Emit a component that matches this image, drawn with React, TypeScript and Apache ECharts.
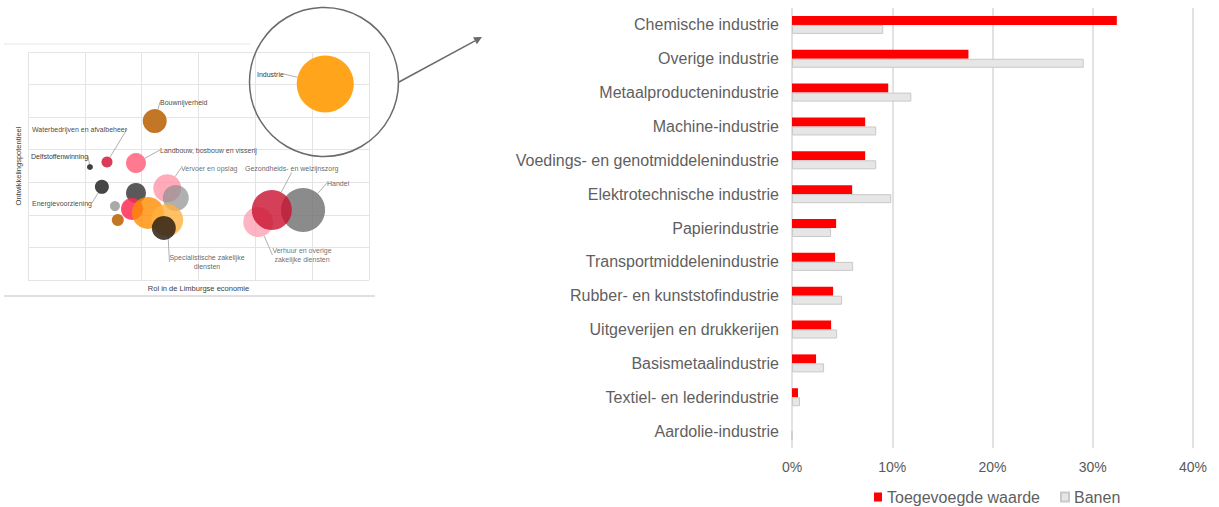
import React, { useEffect, useRef } from "react";
import * as echarts from "echarts";

// ---- Bar chart data ----
const categories = [
  "Chemische industrie",
  "Overige industrie",
  "Metaalproductenindustrie",
  "Machine-industrie",
  "Voedings- en genotmiddelenindustrie",
  "Elektrotechnische industrie",
  "Papierindustrie",
  "Transportmiddelenindustrie",
  "Rubber- en kunststofindustrie",
  "Uitgeverijen en drukkerijen",
  "Basismetaalindustrie",
  "Textiel- en lederindustrie",
  "Aardolie-industrie",
];
const toegevoegdeWaarde = [32.4, 17.6, 9.6, 7.3, 7.3, 6.0, 4.4, 4.3, 4.1, 3.9, 2.4, 0.6, 0];
const banen = [9.1, 29.1, 11.9, 8.4, 8.4, 9.9, 3.9, 6.1, 5.0, 4.5, 3.2, 0.8, 0];
const seriesNames = ["Toegevoegde waarde", "Banen"];

// ---- Bubble chart data (inset) ----
const bubbleNames = [
  "Delfstoffenwinning",
  "Waterbedrijven en afvalbeheer",
  "Landbouw, bosbouw en visserij",
  "Bouwnijverheid",
  "Energievoorziening",
  "",
  "",
  "",
  "Vervoer en opslag",
  "",
  "",
  "",
  "Specialistische zakelijke\ndiensten",
  "",
  "Verhuur en overige\nzakelijke diensten",
  "Handel",
  "Gezondheids- en welzijnszorg",
  "Industrie",
];
const bubbleX = [1.09, 1.39, 1.9, 2.23, 1.3, 1.9, 1.53, 1.58, 2.45, 2.6, 1.83, 2.11, 2.45, 2.39, 4.05, 4.84, 4.29, 5.23];
const bubbleY = [3.47, 3.62, 3.59, 4.88, 2.86, 2.67, 2.27, 1.84, 2.82, 2.52, 2.18, 2.06, 1.84, 1.6, 1.78, 2.15, 2.15, 6.02];
const bubbleSize = [6, 11, 20, 24, 14, 20, 10, 12, 28, 26, 22, 32, 32, 24, 30, 44, 40, 57];

// styles (kept apart from data)
const bubbleColors = [
  "#404040", "#D9304F", "#FF6B85", "#C0701A", "#3C3C3C", "#474747", "#A0A0A0", "#C0701A",
  "#FF8FA3", "#8F8F8F", "#FF2D55", "#FF8C00", "#FFB23F", "#2E2114", "#FF9BB0", "#6E6E6E",
  "#C8102E", "#FFA41B",
];
const bubbleOpacity = [1, 0.95, 0.9, 0.95, 0.95, 0.9, 0.9, 0.95, 0.75, 0.7, 0.85, 0.8, 0.8, 0.85, 0.75, 0.8, 0.8, 1];
const labelPos: Record<number, { x: number; y: number; align: string }> = {
  0: { x: 31, y: 156, align: "left" },
  1: { x: 32, y: 129, align: "left" },
  2: { x: 160, y: 150, align: "left" },
  3: { x: 160, y: 102, align: "left" },
  4: { x: 32, y: 203, align: "left" },
  8: { x: 181, y: 168, align: "left" },
  12: { x: 207, y: 262, align: "center" },
  14: { x: 302, y: 255, align: "center" },
  15: { x: 327, y: 183, align: "left" },
  16: { x: 245, y: 168, align: "left" },
  17: { x: 257, y: 74, align: "left" },
};

const FONT = "'Liberation Sans', Arial, Helvetica, sans-serif";

export default function App() {
  const ref = useRef<HTMLDivElement>(null);

  useEffect(() => {
    if (!ref.current) return;
    const chart = echarts.init(ref.current, undefined, { renderer: "svg" });

    const bubbleData = bubbleX.map((x, i) => ({
      name: bubbleNames[i],
      value: [x, bubbleY[i], bubbleSize[i]],
      itemStyle: { color: bubbleColors[i], opacity: bubbleOpacity[i] },
      label: { show: bubbleNames[i] !== "", color: "#3a3a3a" },
      labelLine: { show: bubbleNames[i] !== "" },
    }));

    // arrow geometry
    const ax0 = 399, ay0 = 82, ax1 = 482, ay1 = 37;
    const len = Math.hypot(ax1 - ax0, ay1 - ay0);
    const dx = (ax1 - ax0) / len, dy = (ay1 - ay0) / len;
    const bx = ax1 - dx * 8, by = ay1 - dy * 8;
    const px = -dy * 4, py = dx * 4;

    const option: any = {
      animation: false,
      backgroundColor: "#ffffff",
      textStyle: { fontFamily: FONT },
      grid: [
        { left: 28, top: 52, width: 341, height: 228 },
        { left: 792, top: 8, width: 401, height: 440 },
      ],
      xAxis: [
        {
          gridIndex: 0,
          type: "value",
          min: 0,
          max: 6,
          interval: 1,
          axisLine: { show: false },
          axisTick: { show: false },
          axisLabel: { show: false },
          splitLine: { show: true, lineStyle: { color: "#e4e4e4", width: 1 } },
          name: "Rol in de Limburgse economie",
          nameLocation: "middle",
          nameGap: 4,
          nameTextStyle: { fontSize: 7.5, color: "#404040", fontFamily: FONT },
        },
        {
          gridIndex: 1,
          type: "value",
          min: 0,
          max: 40,
          interval: 10,
          axisLine: { show: false },
          axisTick: { show: false },
          axisLabel: { formatter: "{value}%", fontSize: 14, color: "#595959", margin: 12, fontFamily: FONT },
          splitLine: { show: true, lineStyle: { color: "#d9d9d9", width: 1.5 } },
        },
      ],
      yAxis: [
        {
          gridIndex: 0,
          type: "value",
          min: 0,
          max: 7,
          interval: 1,
          axisLine: { show: false },
          axisTick: { show: false },
          axisLabel: { show: false },
          splitLine: { show: true, lineStyle: { color: "#e4e4e4", width: 1 } },
          name: "Ontwikkelingspotentieel",
          nameLocation: "middle",
          nameGap: 6,
          nameTextStyle: { fontSize: 7.5, color: "#404040", fontFamily: FONT },
        },
        {
          gridIndex: 1,
          type: "category",
          data: categories,
          inverse: true,
          axisLine: { show: false },
          axisTick: { show: false },
          axisLabel: { fontSize: 16, color: "#5f5f5f", margin: 13, fontFamily: FONT },
          splitLine: { show: false },
        },
      ],
      legend: {
        data: seriesNames,
        left: 874,
        top: 489,
        padding: 0,
        itemWidth: 8,
        itemHeight: 9,
        itemGap: 20,
        icon: "rect",
        textStyle: { fontSize: 16, color: "#5f5f5f", fontFamily: FONT },
      },
      series: [
        {
          type: "bar",
          name: seriesNames[0],
          xAxisIndex: 1,
          yAxisIndex: 1,
          data: toegevoegdeWaarde,
          barWidth: 9,
          barGap: "0%",
          itemStyle: { color: "#ff0000" },
        },
        {
          type: "bar",
          name: seriesNames[1],
          xAxisIndex: 1,
          yAxisIndex: 1,
          data: banen,
          barWidth: 9,
          barGap: "0%",
          itemStyle: { color: "#e6e6e6", borderColor: "#c9c9c9", borderWidth: 1 },
        },
        {
          type: "scatter",
          name: "Sectoren",
          xAxisIndex: 0,
          yAxisIndex: 0,
          data: bubbleData,
          symbolSize: (v: number[]) => v[2],
          label: {
            show: true,
            formatter: "{b}",
            fontSize: 7,
            color: "#3a3a3a",
            fontFamily: FONT,
            lineHeight: 9,
          },
          labelLine: { show: true, lineStyle: { color: "#9a9a9a", width: 0.8 } },
          labelLayout: (params: any) => {
            const p = labelPos[params.dataIndex];
            if (!p) return {};
            return { x: p.x, y: p.y, align: p.align, verticalAlign: "middle" };
          },
        },
      ],
      graphic: [
        {
          type: "line",
          shape: { x1: 4, y1: 44, x2: 250, y2: 44 },
          style: { stroke: "#e6e6e6", lineWidth: 1 },
          silent: true,
        },
        {
          type: "line",
          shape: { x1: 4, y1: 296, x2: 375, y2: 296 },
          style: { stroke: "#d6d6d6", lineWidth: 1.5 },
          silent: true,
        },
        {
          type: "circle",
          shape: { cx: 324, cy: 82, r: 74.5 },
          style: { fill: "none", stroke: "#6a6a6a", lineWidth: 1.5 },
          silent: true,
          z: 10,
        },
        {
          type: "line",
          shape: { x1: ax0, y1: ay0, x2: bx, y2: by },
          style: { stroke: "#6a6a6a", lineWidth: 1.5 },
          silent: true,
          z: 10,
        },
        {
          type: "polygon",
          shape: { points: [[ax1, ay1], [bx + px, by + py], [bx - px, by - py]] },
          style: { fill: "#6a6a6a" },
          silent: true,
          z: 10,
        },
      ],
    };

    chart.setOption(option);
    return () => chart.dispose();
  }, []);

  return (
    <div
      ref={ref}
      style={{ position: "fixed", left: 0, top: 0, width: 1219, height: 507, background: "#fff" }}
    />
  );
}
